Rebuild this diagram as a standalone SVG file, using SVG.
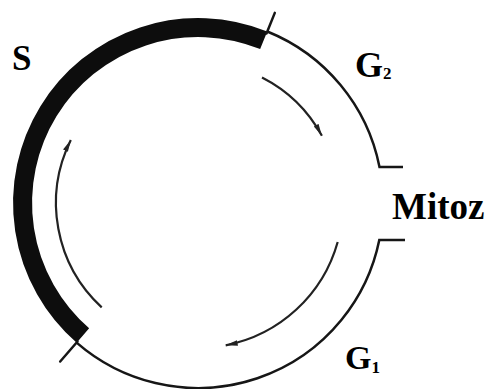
<svg xmlns="http://www.w3.org/2000/svg" width="492" height="389" viewBox="0 0 492 389">
  <style>
    .thin { fill: none; stroke: #161616; stroke-width: 2.5; }
    .band { fill: none; stroke: #0d0d0d; stroke-width: 19; stroke-linecap: butt; }
    .tick { fill: none; stroke: #161616; stroke-width: 2.5; stroke-linecap: round; }
    .arrow { fill: none; stroke: #222; stroke-width: 2.2; marker-end: url(#ah); }
  </style>
  <defs>
    <marker id="ah" markerUnits="userSpaceOnUse" markerWidth="14" markerHeight="7" refX="12" refY="3.5" orient="auto">
      <path d="M0,0.8 L12,3.5 L0,6.2 Z" fill="#222"/>
    </marker>
  </defs>
  <rect width="492" height="389" fill="#fff"/>
  <g id="cycle">
    <path class="band" d="M263.7,40.3 A175.5,175.5 0 0 0 82.9,335.5"/>
    <path class="thin" d="M267.3,31.5 A185,185 0 0 1 379.5,167 H403"/>
    <path class="thin" d="M405,240 H379.3 A185,185 0 0 1 76.6,342.6"/>
    <line class="tick" x1="266.5" y1="33.5" x2="274.8" y2="12.9"/>
    <line class="tick" x1="77.5" y1="341.5" x2="60.2" y2="361.5"/>
  </g>
  <g id="connectors">
    <path class="arrow" d="M262,77.4 A141,141 0 0 1 321.9,135.7"/>
    <path class="arrow" d="M337.7,242 A145,145 0 0 1 225.7,345.3"/>
    <path class="arrow" d="M101.7,307.4 A142,142 0 0 1 70.8,139.9"/>
  </g>
  <g id="label-S"><text x="12" y="69.5" font-family="Liberation Serif" font-weight="bold" font-size="35">S</text></g>
  <g id="label-G2"><text x="355" y="77" font-family="Liberation Serif" font-weight="bold" font-size="36">G<tspan font-size="17" dy="2">2</tspan></text></g>
  <g id="label-Mitoz"><text x="392" y="219" font-family="Liberation Serif" font-weight="bold" font-size="37">Mitoz</text></g>
  <g id="label-G1"><text x="345" y="369" font-family="Liberation Serif" font-weight="bold" font-size="34">G<tspan font-size="17" dy="4">1</tspan></text></g>
</svg>
